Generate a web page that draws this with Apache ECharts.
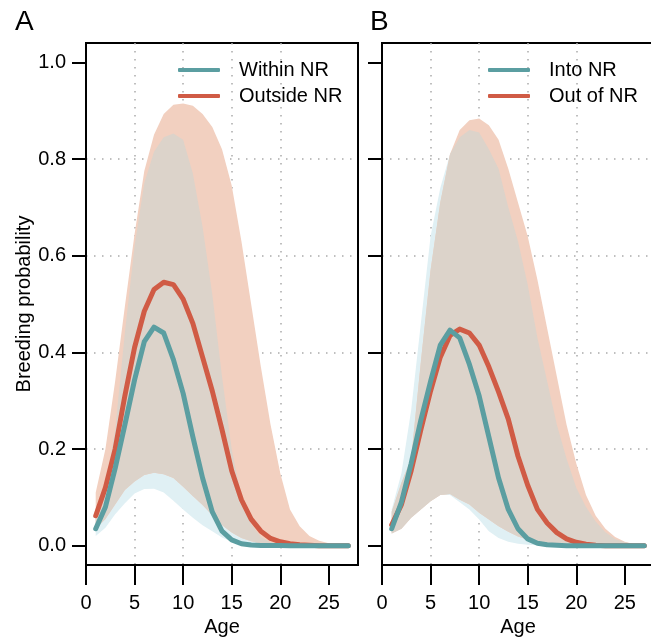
<!DOCTYPE html>
<html><head><meta charset="utf-8">
<script src="https://cdn.jsdelivr.net/npm/echarts@6/dist/echarts.min.js"></script>
<style>html,body{margin:0;padding:0;background:#fff}#c{width:651px;height:637px}</style>
</head><body><div id="c"></div>
<script>
// ---- data ----
const ages = [1,2,3,4,5,6,7,8,9,10,11,12,13,14,15,16,17,18,19,20,21,22,23,24,25,26,27];
const xTicks = [0,5,10,15,20,25];
const yTicks = [0,0.2,0.4,0.6,0.8,1.0];

// Panel A
const withinMean = [0.035,0.08,0.16,0.25,0.343,0.422,0.452,0.44,0.385,0.315,0.225,0.14,0.07,0.03,0.012,0.004,0.0015,0.0005,0.0002,0.0001,0,0,0,0,0,0,0];
const withinLow  = [0.02,0.037,0.065,0.088,0.108,0.117,0.118,0.11,0.093,0.075,0.058,0.042,0.03,0.017,0.008,0.004,0.002,0.001,0,0,0,0,0,0,0,0,0];
const withinHigh = [0.06,0.12,0.24,0.44,0.62,0.75,0.815,0.845,0.853,0.84,0.77,0.66,0.52,0.35,0.2,0.1,0.045,0.018,0.007,0.003,0.001,0,0,0,0,0,0];
const outsideMean = [0.062,0.12,0.2,0.31,0.41,0.485,0.53,0.545,0.54,0.51,0.46,0.39,0.32,0.24,0.155,0.095,0.055,0.03,0.015,0.008,0.004,0.002,0.001,0,0,0,0];
const outsideLow  = [0.035,0.055,0.085,0.115,0.133,0.146,0.151,0.148,0.14,0.122,0.103,0.084,0.063,0.043,0.027,0.016,0.009,0.005,0.003,0.001,0,0,0,0,0,0,0];
const outsideHigh = [0.11,0.2,0.34,0.495,0.645,0.775,0.85,0.893,0.912,0.915,0.91,0.893,0.866,0.82,0.745,0.63,0.5,0.37,0.25,0.15,0.075,0.04,0.02,0.01,0.005,0.002,0.001];

// Panel B
const intoMean = [0.035,0.09,0.17,0.26,0.34,0.415,0.446,0.43,0.375,0.31,0.225,0.14,0.075,0.035,0.014,0.005,0.002,0.001,0,0,0,0,0,0,0,0,0];
const intoLow  = [0.025,0.035,0.058,0.075,0.092,0.105,0.105,0.09,0.075,0.054,0.03,0.016,0.008,0.004,0.002,0.001,0,0,0,0,0,0,0,0,0,0,0];
const intoHigh = [0.075,0.15,0.28,0.46,0.64,0.74,0.81,0.845,0.86,0.855,0.82,0.78,0.7,0.63,0.54,0.43,0.34,0.25,0.18,0.12,0.08,0.05,0.028,0.014,0.007,0.003,0.001];
const outMean = [0.043,0.085,0.155,0.24,0.32,0.39,0.435,0.448,0.44,0.415,0.37,0.318,0.262,0.185,0.125,0.075,0.047,0.027,0.014,0.007,0.003,0.001,0,0,0,0,0];
const outLow  = [0.025,0.035,0.058,0.075,0.092,0.105,0.107,0.095,0.085,0.068,0.054,0.04,0.029,0.019,0.012,0.007,0.004,0.002,0.001,0,0,0,0,0,0,0,0];
const outHigh = [0.07,0.13,0.18,0.38,0.57,0.71,0.81,0.86,0.88,0.884,0.87,0.84,0.78,0.71,0.64,0.55,0.45,0.35,0.25,0.17,0.105,0.062,0.035,0.018,0.008,0.003,0.001];

const labelsA = ['Within NR','Outside NR'];
const labelsB = ['Into NR','Out of NR'];

// ---- styles ----
const FONT = 'Liberation Sans';
const TEAL = '#5B9EA1', ORANGE = '#D05B45';
const TEAL_BAND = '#E0F0F4', ORANGE_BAND = '#F2D0C0', OVERLAP_BAND = '#DCD3CA';

function pairs(ys){ return ages.map((a,i)=>[a, ys[i]]); }

function band(idx, lo, hi, color){
  return {
    type:'custom', xAxisIndex:idx, yAxisIndex:idx, silent:true, clip:true,
    data:[[ages[0], 0]],
    renderItem:function(params, api){
      const pts = [];
      for (let i=0;i<ages.length;i++) pts.push(api.coord([ages[i], hi[i]]));
      for (let i=ages.length-1;i>=0;i--) pts.push(api.coord([ages[i], lo[i]]));
      return {type:'polygon', shape:{points:pts}, style:{fill:color}};
    }
  };
}
function overlap(idx, loA, hiA, loB, hiB){
  const lo = ages.map((_,i)=>Math.max(loA[i], loB[i]));
  const hi = ages.map((_,i)=>Math.max(lo[i], Math.min(hiA[i], hiB[i])));
  return band(idx, lo, hi, OVERLAP_BAND);
}
function line(idx, name, ys, color){
  return {
    type:'line', name:name, xAxisIndex:idx, yAxisIndex:idx, data:pairs(ys),
    showSymbol:false, symbol:'none', smooth:false, color:color, silent:true,
    lineStyle:{color:color, width:5, cap:'round', join:'round'}, z:3
  };
}

function xAxis(idx){
  return {
    type:'value', gridIndex:idx, min:0, max:28,
    axisLine:{show:true, onZero:false, lineStyle:{color:'#000', width:2}},
    axisTick:{show:true, customValues:xTicks, length:20, lineStyle:{color:'#000', width:2}},
    axisLabel:{customValues:xTicks, margin:28, fontSize:20, fontFamily:FONT, color:'#000'},
    splitLine:{show:true, showMinLine:false, showMaxLine:false, lineStyle:{color:'#aaaaaa', width:1.5, type:[1.5,6.5]}},
    name:'Age', nameLocation:'middle', nameGap:50,
    nameTextStyle:{fontSize:20, fontFamily:FONT, color:'#000'}
  };
}
function yAxis(idx, showLabels){
  const ax = {
    type:'value', gridIndex:idx, min:-0.04, max:1.04,
    axisLine:{show:true, onZero:false, lineStyle:{color:'#000', width:2}},
    axisTick:{show:true, customValues:yTicks, length:14, lineStyle:{color:'#000', width:2}},
    axisLabel:{show:showLabels, customValues:yTicks, margin:20, fontSize:20, fontFamily:FONT, color:'#000',
      formatter:(v)=>v.toFixed(1)},
    splitLine:{show:true, showMinLine:false, showMaxLine:false, lineStyle:{color:'#aaaaaa', width:1.5, type:[1.5,6.5]}}
  };
  if (showLabels){
    ax.name = 'Breeding probability'; ax.nameLocation='middle'; ax.nameGap=48;
    ax.nameTextStyle = {fontSize:20, fontFamily:FONT, color:'#000'};
  }
  return ax;
}
function legend(names, left){
  return {
    data:names, orient:'vertical', left:left, top:60, padding:0,
    itemWidth:42, itemHeight:4, itemGap:6, icon:'roundRect', selectedMode:false,
    itemStyle:{borderWidth:0},
    textStyle:{fontSize:20, fontFamily:FONT, color:'#000', lineHeight:20, padding:[0,0,0,14]}
  };
}

const option = {
  animation:false,
  backgroundColor:'#fff',
  title:[
    {text:'A', left:15, top:8, padding:0, textStyle:{fontSize:28, fontWeight:'normal', fontFamily:FONT, color:'#000'}},
    {text:'B', left:370, top:8, padding:0, textStyle:{fontSize:28, fontWeight:'normal', fontFamily:FONT, color:'#000'}}
  ],
  grid:[
    {left:86, top:43, width:272, height:522, show:true, borderColor:'#000', borderWidth:2, backgroundColor:'transparent', containLabel:false, outerBoundsMode:'none'},
    {left:382, top:43, width:272, height:522, show:true, borderColor:'#000', borderWidth:2, backgroundColor:'transparent', containLabel:false, outerBoundsMode:'none'}
  ],
  xAxis:[xAxis(0), xAxis(1)],
  yAxis:[yAxis(0,true), yAxis(1,false)],
  legend:[legend(labelsA,178), legend(labelsB,488)],
  series:[
    band(0, withinLow, withinHigh, TEAL_BAND),
    band(0, outsideLow, outsideHigh, ORANGE_BAND),
    overlap(0, withinLow, withinHigh, outsideLow, outsideHigh),
    line(0, labelsA[1], outsideMean, ORANGE),
    line(0, labelsA[0], withinMean, TEAL),
    band(1, intoLow, intoHigh, TEAL_BAND),
    band(1, outLow, outHigh, ORANGE_BAND),
    overlap(1, intoLow, intoHigh, outLow, outHigh),
    line(1, labelsB[1], outMean, ORANGE),
    line(1, labelsB[0], intoMean, TEAL)
  ]
};
const chart = echarts.init(document.getElementById('c'), null, {renderer:'canvas'});
chart.setOption(option);
</script></body></html>
